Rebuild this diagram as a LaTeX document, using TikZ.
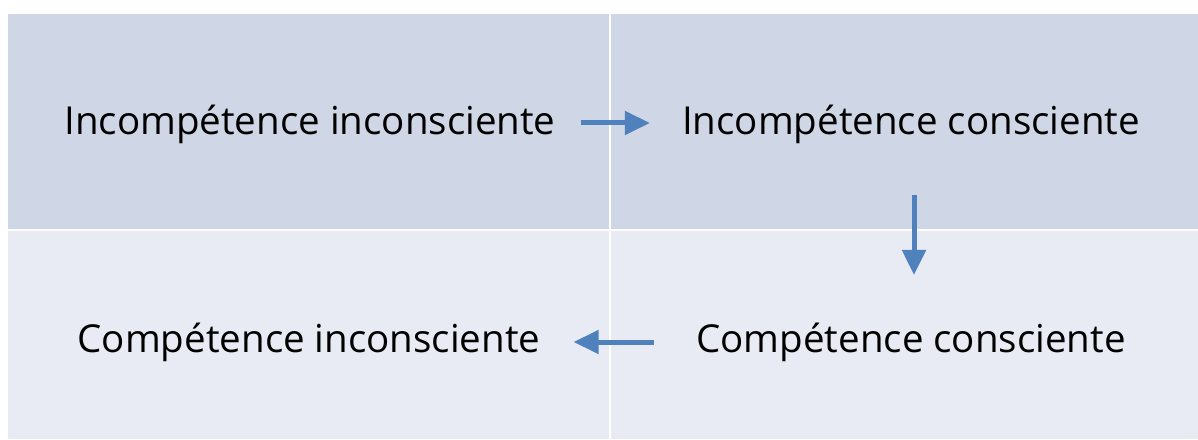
\documentclass[tikz,border=0pt]{standalone}
\usepackage{fontspec}
\setmainfont{Open Sans}
\usetikzlibrary{arrows.meta}
\definecolor{topc}{HTML}{CFD6E5}
\definecolor{botc}{HTML}{E8EBF4}
\definecolor{arrc}{HTML}{4F81BD}
\tikzset{
  lbl/.style={font=\fontsize{38.5}{42}\selectfont, inner sep=0pt, anchor=base, text=black},
  arr/.style={draw=arrc, line width=5pt, -{Triangle[length=25pt,width=23pt]}},
}
\begin{document}
\begin{tikzpicture}[x=1pt,y=1pt]
\useasboundingbox (0,0) rectangle (1198,439);
\fill[white] (0,0) rectangle (1198,439);
% cells
\fill[topc] (8,210) rectangle (609,425);
\fill[topc] (611,210) rectangle (1198,425);
\fill[botc] (8,0) rectangle (609,208);
\fill[botc] (611,0) rectangle (1198,208);
% texts
\node[lbl] (a) at (310,304) {Incompétence inconsciente};
\node[lbl] (b) at (911,304) {Incompétence consciente};
\node[lbl] (c) at (911,87) {Compétence consciente};
\node[lbl] (d) at (309,87) {Compétence inconsciente};
% arrows
\draw[arr] ([xshift=25pt,yshift=12pt]a.base east) -- ([xshift=-32pt,yshift=12pt]b.base west);
\draw[arr] ([xshift=3pt]b.south |- 0,244) -- ([xshift=3pt]c.north |- 0,164);
\draw[arr] ([xshift=-42pt,yshift=10pt]c.base west) -- ([xshift=33pt,yshift=10pt]d.base east);
\end{tikzpicture}
\end{document}
